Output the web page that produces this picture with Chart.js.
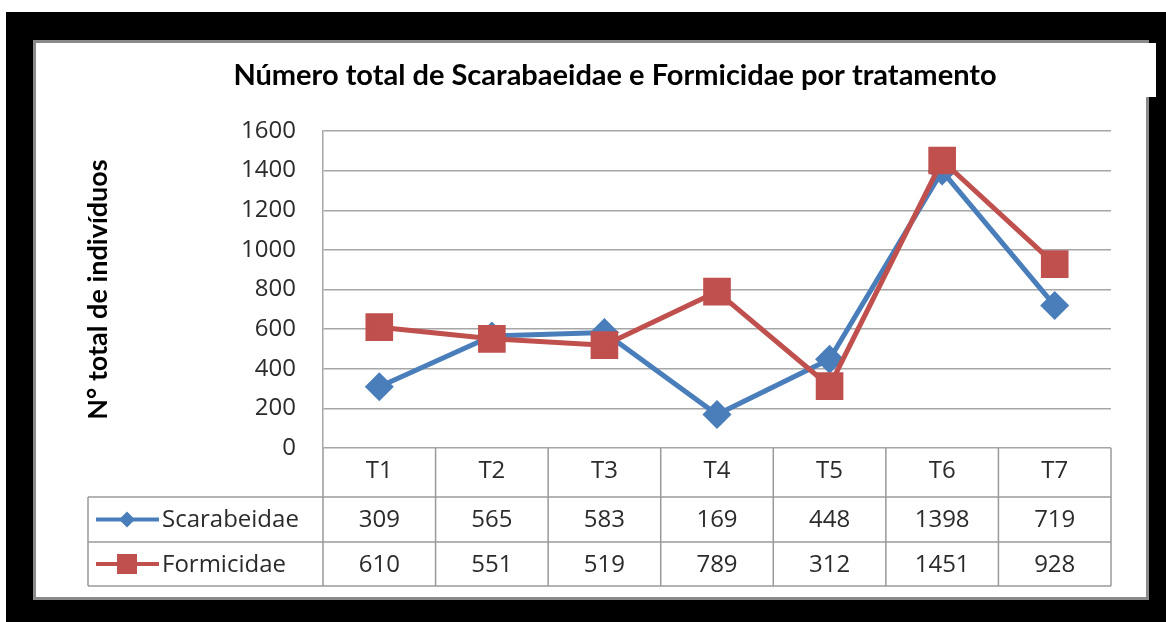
<!DOCTYPE html>
<html>
<head>
<meta charset="utf-8">
<style>
  html, body { margin: 0; padding: 0; background: #fff; }
  #wrap { width: 1166px; height: 622px; position: relative; }
</style>
<script src="https://cdn.jsdelivr.net/npm/chart.js@4.4.0/dist/chart.umd.min.js"></script>
</head>
<body>
<div id="wrap"><canvas id="myChart" width="1166" height="622"></canvas></div>
<script>
var titulo = "Número total de Scarabaeidae e Formicidae por tratamento";
var eixoY = "N° total de indivíduos";
var tratamentos = ["T1", "T2", "T3", "T4", "T5", "T6", "T7"];
var scarabeidae = [309, 565, 583, 169, 448, 1398, 719];
var formicidae = [610, 551, 519, 789, 312, 1451, 928];

var azul = "#4a7ebb";
var vermelho = "#c0504d";
var fonteTitulo = "Lato, 'Open Sans', sans-serif";
var fonte = "'Open Sans', Lato, sans-serif";
var corTexto = "#2b2b2b";

// moldura preta, painel branco e a tabela de dados
var fundo = {
    id: "fundo",
    beforeDraw: function (chart) {
        var c = chart.ctx;
        c.save();
        c.fillStyle = "#000";
        c.fillRect(6, 12, 1160, 610);
        c.fillStyle = "#8a8a8a";
        c.fillRect(33, 40, 1116, 560);
        c.fillStyle = "#fff";
        c.fillRect(36, 43, 1110, 554);
        c.fillRect(36, 43, 1120, 54);
        c.restore();
    },
    afterDraw: function (chart) {
        var c = chart.ctx;
        var x = chart.scales.x;
        var area = chart.chartArea;
        var esq = 88;
        var y0 = area.bottom, y1 = 497, y2 = 542, y3 = 586;
        var passo = (area.right - area.left) / tratamentos.length;
        c.save();
        c.strokeStyle = "#9a9a9a";
        c.lineWidth = 1.5;
        c.beginPath();
        // linhas horizontais
        c.moveTo(esq, y1); c.lineTo(area.right, y1);
        c.moveTo(esq, y2); c.lineTo(area.right, y2);
        c.moveTo(esq, y3); c.lineTo(area.right, y3);
        c.moveTo(esq, y1); c.lineTo(esq, y3);
        for (var i = 0; i <= tratamentos.length; i++) {
            var xv = area.left + i * passo;
            c.moveTo(xv, y0); c.lineTo(xv, y3);
        }
        c.stroke();

        c.font = "24px " + fonte;
        c.fillStyle = corTexto;
        c.textAlign = "center";
        c.textBaseline = "middle";
        for (var j = 0; j < tratamentos.length; j++) {
            var cx = x.getPixelForValue(j);
            c.fillText(String(scarabeidae[j]), cx, (y1 + y2) / 2 + 1);
            c.fillText(String(formicidae[j]), cx, (y2 + y3) / 2 + 1);
        }

        // legenda dentro da tabela
        var lx = 127;
        var linhas = [
            { nome: "Scarabeidae", cor: azul, y: (y1 + y2) / 2, forma: "losango" },
            { nome: "Formicidae", cor: vermelho, y: (y2 + y3) / 2, forma: "quadrado" },
        ];
        linhas.forEach(function (l) {
            c.strokeStyle = l.cor;
            c.fillStyle = l.cor;
            c.lineWidth = 4;
            c.beginPath();
            c.moveTo(96, l.y); c.lineTo(159, l.y);
            c.stroke();
            c.beginPath();
            if (l.forma == "losango") {
                c.moveTo(lx, l.y - 8); c.lineTo(lx + 8, l.y);
                c.lineTo(lx, l.y + 8); c.lineTo(lx - 8, l.y);
                c.closePath();
            } else {
                c.rect(lx - 10, l.y - 10, 20, 20);
            }
            c.fill();
            c.fillStyle = corTexto;
            c.textAlign = "left";
            c.fillText(l.nome, 162, l.y + 1);
        });

        // titulo
        c.font = "bold 29px " + fonteTitulo;
        c.fillStyle = "#000";
        c.textAlign = "center";
        c.fillText(titulo, 615, 76);
        c.restore();
    },
};

var ctx = document.getElementById("myChart").getContext("2d");
var chart = new Chart(ctx, {
    type: "line",
    data: {
        labels: tratamentos,
        datasets: [
            {
                label: "Scarabeidae",
                data: scarabeidae,
                borderColor: azul,
                backgroundColor: azul,
                borderWidth: 5,
                pointStyle: "rectRot",
                pointRadius: 11,
                pointHoverRadius: 11,
                tension: 0,
                order: 2,
            },
            {
                label: "Formicidae",
                data: formicidae,
                borderColor: vermelho,
                backgroundColor: vermelho,
                borderWidth: 5,
                pointStyle: "rect",
                pointRadius: 16,
                pointHoverRadius: 16,
                tension: 0,
                order: 1,
            },
        ],
    },
    options: {
        responsive: false,
        animation: false,
        layout: { padding: { left: 82, right: 55, top: 131, bottom: 0 } },
        plugins: {
            legend: { display: false },
            title: { display: false },
            tooltip: { enabled: false },
        },
        scales: {
            x: {
                offset: true,
                grid: { display: false, drawTicks: false, offset: true },
                border: { display: false },
                ticks: {
                    padding: 9,
                    color: corTexto,
                    font: { family: fonte, size: 24 },
                },
                afterFit: function (s) { s.height = 174; },
            },
            y: {
                min: 0,
                max: 1600,
                ticks: {
                    stepSize: 200,
                    padding: 27,
                    color: corTexto,
                    font: { family: fonte, size: 24 },
                    callback: function (v) { return String(v); },
                },
                grid: { color: "#a6a6a6", lineWidth: 1.5, drawTicks: false },
                border: { color: "#a6a6a6", width: 1.5 },
                title: {
                    display: true,
                    text: eixoY,
                    color: "#000",
                    font: { family: fonteTitulo, size: 27, weight: "bold" },
                    padding: { top: 0, bottom: 0 },
                },
                afterFit: function (s) { s.width = 241; },
            },
        },
    },
    plugins: [fundo],
});
</script>
</body>
</html>
